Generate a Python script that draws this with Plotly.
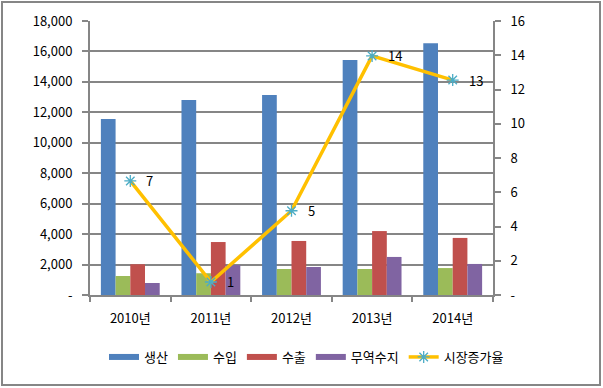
import plotly.graph_objects as go

years = ["2010년", "2011년", "2012년", "2013년", "2014년"]
production = [11560, 12810, 13140, 15440, 16540]
imports = [1250, 1430, 1710, 1710, 1770]
exports = [2020, 3480, 3550, 4200, 3750]
trade_balance = [790, 1970, 1840, 2500, 2040]
growth = [6.66, 0.76, 4.92, 13.96, 12.55]
growth_labels = ["7", "1", "5", "14", "13"]

left_ticks = [0, 2000, 4000, 6000, 8000, 10000, 12000, 14000, 16000, 18000]
left_text = ["-", "2,000", "4,000", "6,000", "8,000", "10,000", "12,000", "14,000", "16,000", "18,000"]
right_ticks = [0, 2, 4, 6, 8, 10, 12, 14, 16]
right_text = ["-", "2", "4", "6", "8", "10", "12", "14", "16"]

bar_names = ["생산", "수입", "수출", "무역수지"]
bar_values = [production, imports, exports, trade_balance]
bar_colors = ["#4F81BD", "#9BBB59", "#C0504D", "#8064A2"]

FONT = "Noto Sans CJK KR"
GRAY = "#868686"

fig = go.Figure()

# legend-only entries (wide thin line symbols as in the original)
for name, color in zip(bar_names, bar_colors):
    fig.add_trace(go.Scatter(x=[None], y=[None], mode="lines", name=name,
                             line=dict(color=color, width=6), hoverinfo="skip"))

for name, vals, color in zip(bar_names, bar_values, bar_colors):
    fig.add_trace(go.Bar(x=years, y=vals, name=name, marker_color=color,
                         marker_line_width=0, showlegend=False))

fig.add_trace(go.Scatter(
    x=years, y=growth, name="시장증가율", yaxis="y2", mode="lines+markers",
    line=dict(color="#FFC000", width=3.5),
    marker=dict(symbol="asterisk-open", size=10, color="#4BACC6",
                line=dict(color="#4BACC6", width=1.3)),
))

for x, y, t in zip(years, growth, growth_labels):
    fig.add_annotation(x=x, y=y, yref="y2", text=t, showarrow=False,
                       xanchor="left", yanchor="middle", xshift=14,
                       font=dict(family=FONT, size=13, color="black"))

# outer chart border
fig.add_shape(type="rect", xref="paper", yref="paper",
              x0=(2 - 90) / 403, x1=(600 - 90) / 403,
              y0=(295 - 385) / 274, y1=(295 - 2) / 274,
              line=dict(color=GRAY, width=2), fillcolor="rgba(0,0,0,0)")

fig.update_layout(
    width=603, height=388,
    margin=dict(l=90, r=110, t=21, b=93),
    paper_bgcolor="white", plot_bgcolor="white",
    font=dict(family=FONT, size=13, color="black"),
    barmode="group", bargap=0.27, bargroupgap=0,
    showlegend=True,
    legend=dict(orientation="h", x=(104 - 90) / 403, xanchor="left",
                y=(295 - 357) / 274, yanchor="middle",
                font=dict(family=FONT, size=13, color="black"),
                bgcolor="rgba(0,0,0,0)", itemwidth=30, tracegroupgap=0),
    xaxis=dict(type="category", showgrid=False, showline=True,
               linecolor=GRAY, linewidth=2, ticks="outside", tickson="boundaries",
               ticklen=5, tickcolor=GRAY, tickwidth=2,
               tickfont=dict(family=FONT, size=13, color="black"),
               ticklabelstandoff=10),
    yaxis=dict(range=[0, 18000], tickvals=left_ticks, ticktext=left_text,
               showgrid=True, gridcolor=GRAY, gridwidth=1.5,
               showline=True, linecolor=GRAY, linewidth=2,
               ticks="outside", ticklen=6, tickcolor=GRAY, tickwidth=2,
               tickfont=dict(family=FONT, size=13, color="black"),
               ticklabelstandoff=7, zeroline=False),
    yaxis2=dict(range=[0, 16], tickvals=right_ticks, ticktext=right_text,
                overlaying="y", side="right", showgrid=False,
                showline=True, linecolor=GRAY, linewidth=2,
                ticks="outside", ticklen=6, tickcolor=GRAY, tickwidth=2,
                tickfont=dict(family=FONT, size=13, color="black"),
                ticklabelstandoff=7, zeroline=False),
)

fig.write_html("out.html", config={"displayModeBar": False},
               post_script="document.body.style.margin='0px';document.body.style.overflow='hidden';")
